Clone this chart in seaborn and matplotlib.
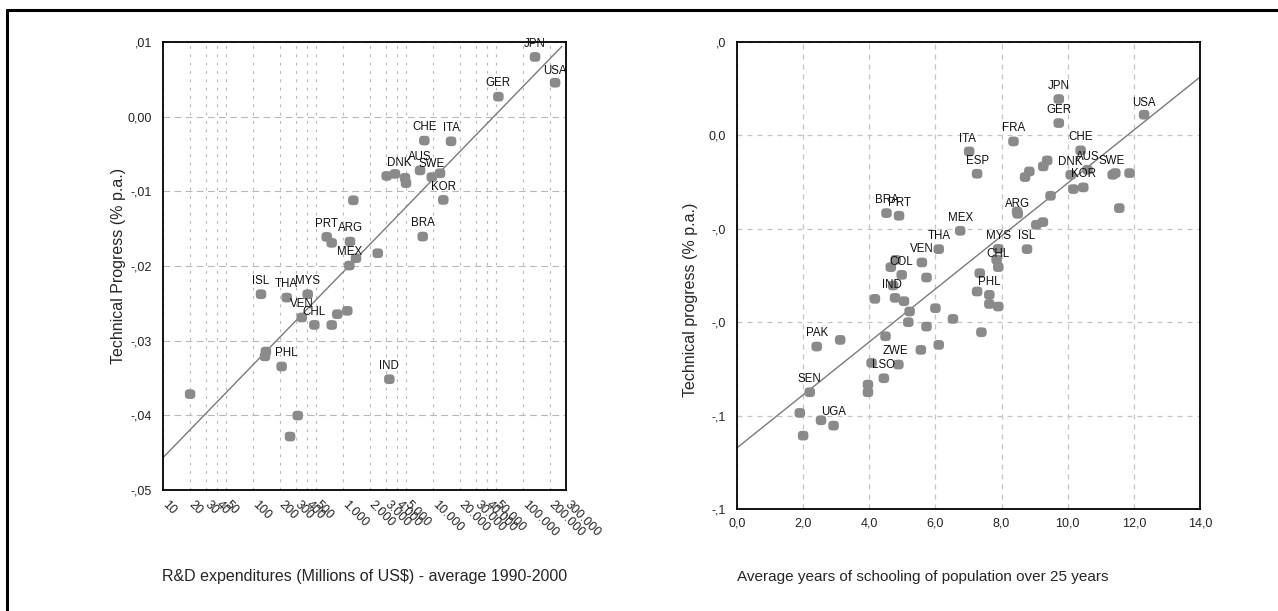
import numpy as np
import pandas as pd
import matplotlib
matplotlib.use("Agg")
import matplotlib.pyplot as plt
from matplotlib.lines import Line2D
from matplotlib.path import Path
from matplotlib.transforms import ScaledTranslation
import seaborn as sns

# ---------------------------------------------------------------------------
# Panel A: R&D expenditures vs. technical progress
# ---------------------------------------------------------------------------
rd_spend = [135900, 227000, 53200, 8000, 15850, 7170, 3780, 3057, 4886, 5010,
            9680, 11960, 13000, 1302, 7680, 659, 749, 1196, 2430, 1394,
            1175, 122.7, 236.8, 405, 347.6, 480, 749, 864, 1116, 139,
            136, 208, 3270, 20, 314, 258]
rd_progress = [0.0080, 0.00455, 0.00268, -0.0032, -0.0033, -0.0072, -0.00767,
               -0.00794, -0.0082, -0.0089, -0.0081, -0.00758, -0.01115,
               -0.0112, -0.01606, -0.0161, -0.0169, -0.01673, -0.01829,
               -0.01896, -0.01994, -0.02378, -0.02423, -0.02378, -0.0269,
               -0.02789, -0.0279, -0.02645, -0.0260, -0.03146, -0.0321,
               -0.03346, -0.03516, -0.03716, -0.04003, -0.04284]
rd_country = ["JPN", "USA", "GER", "CHE", "ITA", "AUS", "DNK", "", "", "",
              "SWE", "", "KOR", "", "BRA", "PRT", "", "ARG", "", "",
              "MEX", "ISL", "THA", "MYS", "VEN", "CHL", "", "", "", "PHL",
              "", "", "IND", "", "", ""]

# log-linear fit: progress = a + b * log10(R&D)
rd_fit_intercept = -0.0581
rd_fit_slope = 0.01243
rd_fit_range = [10, 270000]

rd_xticks = [10, 20, 30, 40, 50, 100, 200, 300, 400, 500, 1000, 2000, 3000,
             4000, 5000, 10000, 20000, 30000, 40000, 50000, 100000, 200000,
             300000]
rd_xticklabels = ["10", "20", "30", "40", "50", "100", "200", "300", "400",
                  "500", "1.000", "2.000", "3.000", "4.000", "5.000",
                  "10.000", "20.000", "30.000", "40.000", "50.000",
                  "100.000", "200.000", "300.000"]
rd_yticks = [0.01, 0.0, -0.01, -0.02, -0.03, -0.04, -0.05]
rd_yticklabels = [",01", "0,00", "-,01", "-,02", "-,03", "-,04", "-,05"]

# ---------------------------------------------------------------------------
# Panel B: years of schooling vs. technical progress
# ---------------------------------------------------------------------------
school_years = [9.73, 9.73, 12.31, 8.36, 7.02, 7.26, 10.39, 9.38, 9.26, 8.84,
                8.71, 10.6, 10.09, 10.17, 10.47, 11.44, 11.36, 11.87, 11.56,
                9.48, 4.52, 4.90, 8.49, 8.47, 6.75, 9.25, 9.05, 6.10, 7.9,
                7.85, 7.9, 8.77, 5.59, 4.80, 4.65, 4.98, 5.73, 7.34, 7.26,
                7.63, 4.72, 7.63, 7.9, 4.17, 4.78, 5.05, 5.22, 6.0, 6.53,
                5.18, 5.73, 7.39, 2.41, 3.12, 4.49, 5.56, 6.10, 4.07, 4.88,
                4.44, 3.96, 3.96, 2.2, 1.9, 2.54, 2.92, 2.0]
school_progress = [0.00779, 0.00264, 0.00443, -0.00129, -0.00343, -0.00821,
                   -0.00321, -0.00536, -0.00664, -0.00771, -0.00893, -0.00736,
                   -0.00843, -0.0115, -0.01114, -0.00807, -0.00843, -0.00807,
                   -0.01557, -0.01293, -0.01664, -0.01721, -0.0168, -0.0163,
                   -0.02043, -0.01857, -0.01914, -0.02436, -0.0243, -0.0266,
                   -0.0282, -0.02436, -0.02721, -0.02664, -0.02821, -0.02986,
                   -0.03043, -0.0295, -0.03343, -0.03414, -0.03214, -0.0361,
                   -0.03664, -0.035, -0.03479, -0.0355, -0.03771, -0.037,
                   -0.03929, -0.04, -0.04093, -0.04214, -0.04521, -0.04379,
                   -0.043, -0.04593, -0.04486, -0.04871, -0.04907, -0.0520,
                   -0.05336, -0.055, -0.055, -0.05943, -0.0610, -0.06214,
                   -0.06429]
school_country = ["JPN", "GER", "USA", "FRA", "ITA", "ESP", "CHE", "", "", "",
                  "", "AUS", "DNK", "", "KOR", "SWE", "", "", "", "", "BRA",
                  "PRT", "ARG", "", "MEX", "", "", "THA", "MYS", "", "CHL",
                  "ISL", "VEN", "", "", "COL", "", "", "", "PHL", "", "", "",
                  "", "IND", "", "", "", "", "", "", "", "PAK", "", "", "",
                  "", "", "ZWE", "LSO", "", "", "SEN", "", "", "UGA", ""]

# linear fit: progress = a + b * years
school_fit_intercept = -0.0669
school_fit_slope = 0.00567
school_fit_range = [0.0, 14.0]

school_xticks = [0, 2, 4, 6, 8, 10, 12, 14]
school_xticklabels = ["0,0", "2,0", "4,0", "6,0", "8,0", "10,0", "12,0", "14,0"]
school_yticks = [0.02, 0.0, -0.02, -0.04, -0.06, -0.08]
school_yticklabels = [",0", "0,0", "-,0", "-,0", "-,1", "-,1"]

# per-label nudges in points (dx, dy); default is centred above the marker
rd_label_nudge = {"DNK": (3, 8), "PHL": (15, -1), "USA": (0, 8.5)}
school_label_nudge = {"SWE": (-3, 9), "ARG": (0, 7), "USA": (0, 8.5),
                      "ITA": (-1, 9), "IND": (-2, 9.5), "ZWE": (-2, 10)}

# ---------------------------------------------------------------------------
sns.set_theme(style="white")
plt.rcParams["font.family"] = ["Liberation Sans", "DejaVu Sans"]

W, H = 1278, 611
fig = plt.figure(figsize=(W / 100, H / 100), dpi=100)
fig.patch.set_facecolor("white")

MARKER = "#8a8a8a"
FIT = "#7a7a7a"
TICK_FS = 9.0
LABEL_FS = 11.5
NAME_FS = 8.3

# rounded-square marker (superellipse), slightly wider than tall
_t = np.linspace(0, 2 * np.pi, 60)
_n = 3.0
_mx = np.sign(np.cos(_t)) * np.abs(np.cos(_t)) ** (2 / _n)
_my = 0.92 * np.sign(np.sin(_t)) * np.abs(np.sin(_t)) ** (2 / _n)
BLOB = Path(np.column_stack([_mx, _my]), closed=False)


def frame(ax):
    for s in ax.spines.values():
        s.set_color("black")
        s.set_linewidth(1.3)
    ax.tick_params(length=0, labelsize=TICK_FS, colors="#222222")


def annotate(ax, xs, ys, names, nudge):
    for x, y, n in zip(xs, ys, names):
        if not n:
            continue
        dx, dy = nudge.get(n, (0, 9.5))
        ax.annotate(n, (x, y), xytext=(dx, dy), textcoords="offset points",
                    ha="center", va="center", fontsize=NAME_FS,
                    color="#111111", zorder=5)


# ---- left panel ----
L1, R1, T1, B1 = 163, 566, 42, 490
ax1 = fig.add_axes([L1 / W, 1 - B1 / H, (R1 - L1) / W, (B1 - T1) / H])
df_rd = pd.DataFrame({"rd": rd_spend, "tp": rd_progress})
ax1.set_xscale("log")
ax1.set_xlim(10, 300000)
ax1.set_ylim(-0.05, 0.01)
ax1.set_xticks(rd_xticks)
ax1.xaxis.set_minor_locator(matplotlib.ticker.NullLocator())
ax1.set_yticks(rd_yticks)
ax1.set_yticklabels(rd_yticklabels)
ax1.grid(True, axis="x", linestyle=(0, (2.5, 5)), color="#b8b8b8", lw=0.8)
ax1.grid(True, axis="y", linestyle=(0, (6, 4)), color="#b8b8b8", lw=0.8)
ax1.set_axisbelow(True)
frame(ax1)
ax1.tick_params(axis="x", pad=6)
ax1.tick_params(axis="y", pad=8)
ax1.set_xticklabels(rd_xticklabels, rotation=-45, ha="left", va="top",
                    rotation_mode="anchor")
# nudge the slanted tick labels a little to the right of their ticks
shift = ScaledTranslation(5 / 100, 0, fig.dpi_scale_trans)
for tick in ax1.xaxis.get_major_ticks():
    tick.label1.set_transform(tick.label1.get_transform() + shift)

fx = np.logspace(np.log10(rd_fit_range[0]), np.log10(rd_fit_range[1]), 100)
ax1.plot(fx, rd_fit_intercept + rd_fit_slope * np.log10(fx), color=FIT,
         lw=1.0, zorder=2)
sns.scatterplot(data=df_rd, x="rd", y="tp", ax=ax1, color=MARKER, s=58,
                marker=BLOB, edgecolor="none", zorder=3, legend=False)
annotate(ax1, rd_spend, rd_progress, rd_country, rd_label_nudge)
ax1.set_xlabel("R&D expenditures (Millions of US$) - average 1990-2000",
               fontsize=LABEL_FS)
ax1.set_ylabel("Technical Progress (% p.a.)", fontsize=LABEL_FS)
ax1.xaxis.set_label_coords(0.5, -(577 - B1) / (B1 - T1))
ax1.xaxis.label.set_va("center")
ax1.yaxis.set_label_coords(-(L1 - 118) / (R1 - L1), 0.5)
ax1.yaxis.label.set_va("center")

# ---- right panel ----
L2, R2, T2, B2 = 737, 1200, 42, 509
ax2 = fig.add_axes([L2 / W, 1 - B2 / H, (R2 - L2) / W, (B2 - T2) / H])
df_sc = pd.DataFrame({"yrs": school_years, "tp": school_progress})
ax2.set_xlim(0, 14)
ax2.set_ylim(-0.08, 0.02)
ax2.set_xticks(school_xticks)
ax2.set_xticklabels(school_xticklabels)
ax2.set_yticks(school_yticks)
ax2.set_yticklabels(school_yticklabels)
ax2.grid(True, linestyle=(0, (4, 4)), color="#c4c4c4", lw=0.9)
ax2.set_axisbelow(True)
frame(ax2)
ax2.tick_params(axis="x", pad=6)
ax2.tick_params(axis="y", pad=8)

sx = np.array(school_fit_range)
ax2.plot(sx, school_fit_intercept + school_fit_slope * sx, color=FIT, lw=1.0,
         zorder=2)
sns.scatterplot(data=df_sc, x="yrs", y="tp", ax=ax2, color=MARKER, s=58,
                marker=BLOB, edgecolor="none", zorder=3, legend=False)
annotate(ax2, school_years, school_progress, school_country,
         school_label_nudge)
ax2.set_xlabel("Average years of schooling of population over 25 years",
               fontsize=11, ha="left")
ax2.set_ylabel("Technical progress (% p.a.)", fontsize=LABEL_FS)
ax2.xaxis.set_label_coords(0.0, -(577 - B2) / (B2 - T2))
ax2.xaxis.label.set_va("center")
ax2.yaxis.set_label_coords(-(L2 - 691) / (R2 - L2), (B2 - 300) / (B2 - T2))
ax2.yaxis.label.set_va("center")

# outer frame: top and left rules
fig.add_artist(Line2D([7 / W, 1.0], [1 - 10 / H, 1 - 10 / H],
                      transform=fig.transFigure, color="black", lw=2.2))
fig.add_artist(Line2D([7 / W, 7 / W], [0.0, 1 - 10 / H],
                      transform=fig.transFigure, color="black", lw=2.2))

fig.savefig("out.png", dpi=100, facecolor="white")
